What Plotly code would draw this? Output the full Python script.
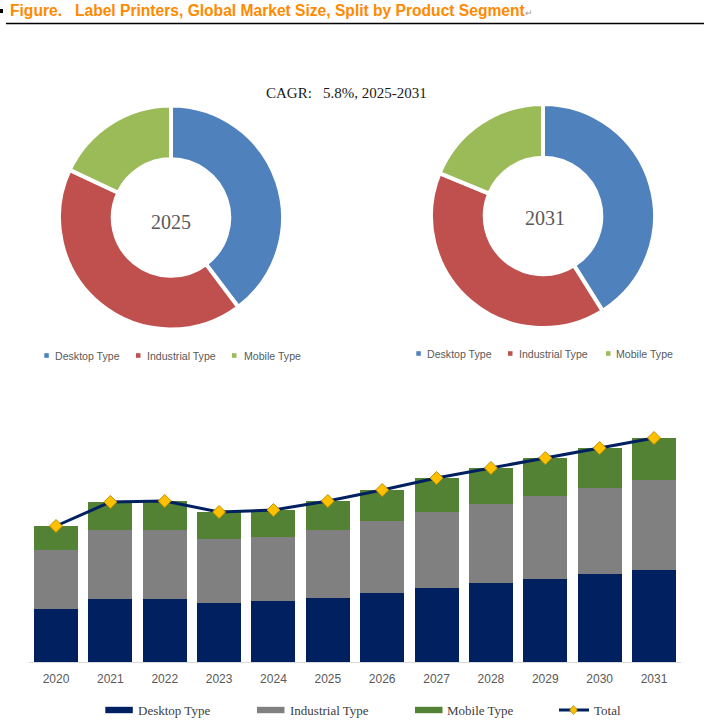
import plotly.graph_objects as go

W, H = 704, 724

# ---------------- data ----------------
years = ["2020", "2021", "2022", "2023", "2024", "2025", "2026", "2027", "2028", "2029", "2030", "2031"]
desktop = [53, 63, 63, 59, 61, 64, 69, 74, 79, 83, 88, 92]
industrial = [59, 69, 69, 64, 64, 68, 72, 76, 79, 83, 86, 90]
mobile = [24, 28, 29, 27, 27, 29, 31, 34, 36, 38, 40, 42]
total = [d + i + m for d, i, m in zip(desktop, industrial, mobile)]
segments = ["Desktop Type", "Industrial Type", "Mobile Type"]
pie_years = ["2025", "2031"]
title_text = "Figure.\u00a0\u00a0\u00a0Label Printers, Global Market Size, Split by Product Segment"
cagr_text = "CAGR:\u00a0\u00a0 5.8%, 2025-2031"

pie_colors = ["#4F81BD", "#C0504D", "#9BBB59"]
bar_colors = ["#002060", "#808080", "#548235"]


def px(x):
    return x / W


def py(y):
    return 1 - y / H


fig = go.Figure()

# ---------------- donuts ----------------
pie_domains = [
    dict(x=[px(59), px(283)], y=[py(329.5), py(105.5)]),
    dict(x=[px(431), px(655)], y=[py(328), py(104)]),
]
for k, yr in enumerate(pie_years):
    idx = years.index(yr)
    vals = [desktop[idx], industrial[idx], mobile[idx]]
    fig.add_trace(go.Pie(
        labels=segments, values=vals, hole=0.52, sort=False,
        direction="clockwise", rotation=0, textinfo="none",
        marker=dict(colors=pie_colors, line=dict(color="white", width=4)),
        domain=pie_domains[k], showlegend=False, hoverinfo="label+value",
    ))

# ---------------- stacked bars ----------------
for name, vals, col in zip(segments, [desktop, industrial, mobile], bar_colors):
    fig.add_trace(go.Bar(x=years, y=vals, name=name, marker=dict(color=col, line=dict(width=0)),
                         showlegend=False))
fig.add_trace(go.Scatter(
    x=years, y=total, name="Total", mode="lines+markers",
    line=dict(color="#002060", width=3),
    marker=dict(symbol="diamond", size=10, color="#FFC000", line=dict(color="#BF8F00", width=1)),
    showlegend=False,
))

fig.update_layout(
    width=W, height=H, margin=dict(l=0, r=0, t=0, b=0),
    paper_bgcolor="white", plot_bgcolor="white",
    barmode="stack", bargap=0.19,
    xaxis=dict(domain=[px(28.8), px(681.2)], range=[-0.5, len(years) - 0.5], autorange=False,
               showline=True, linecolor="#D9D9D9", linewidth=1,
               showgrid=False, zeroline=False, ticks="", ticklabelstandoff=6,
               tickfont=dict(family="Liberation Sans, Arial", size=12, color="#595959")),
    yaxis=dict(domain=[py(662), py(400)], range=[0, 262], visible=False),
)

shapes = []
annotations = []

# title
annotations.append(dict(x=px(8), y=py(11), xref="paper", yref="paper", xanchor="left", yanchor="middle",
                        text="<b>" + title_text + "</b><span style='color:#A0A0A0;font-size:9px'>\u21b5</span>",
                        showarrow=False,
                        font=dict(family="Liberation Sans, Arial", size=15.6, color="#FF8A00")))
shapes.append(dict(type="rect", xref="paper", yref="paper", x0=px(0), x1=px(3), y0=py(13), y1=py(9),
                   fillcolor="black", line=dict(width=0)))
shapes.append(dict(type="line", xref="paper", yref="paper", x0=px(6), x1=px(704), y0=py(23.5), y1=py(23.5),
                   line=dict(color="black", width=1.5)))

# CAGR
annotations.append(dict(x=px(346.5), y=py(93), xref="paper", yref="paper", xanchor="center", yanchor="middle",
                        text=cagr_text, showarrow=False,
                        font=dict(family="Liberation Serif, Times New Roman", size=15, color="#1A1A1A")))

# donut centre labels
for (cx, cy), yr in zip([(171, 222), (545, 218)], pie_years):
    annotations.append(dict(x=px(cx), y=py(cy), xref="paper", yref="paper", xanchor="center", yanchor="middle",
                            text=yr, showarrow=False,
                            font=dict(family="Liberation Serif, Times New Roman", size=20, color="#595959")))

# donut legends
donut_leg = [
    (355.5, [44.3, 136, 232], [53.3, 145, 242]),
    (353.5, [416.3, 508, 606], [425.3, 516.7, 614.3]),
]
for yc, sq_x, tx_x in donut_leg:
    for sx, tx, col, lab in zip(sq_x, tx_x, pie_colors, segments):
        shapes.append(dict(type="rect", xref="paper", yref="paper", x0=px(sx), x1=px(sx + 4.5),
                           y0=py(yc + 2.3), y1=py(yc - 2.3), fillcolor=col, line=dict(width=0)))
        annotations.append(dict(x=px(tx), y=py(yc), xref="paper", yref="paper", xanchor="left",
                                yanchor="middle", text=lab, showarrow=False,
                                font=dict(family="Liberation Sans, Arial", size=10.6, color="#595959")))

# bottom legend
ly = 710
leg_items = [(105.3, 136, bar_colors[0], "Desktop Type"),
             (257, 287.5, bar_colors[1], "Industrial Type"),
             (415, 445, bar_colors[2], "Mobile Type")]
for sx, tx, col, lab in leg_items:
    shapes.append(dict(type="rect", xref="paper", yref="paper", x0=px(sx), x1=px(sx + 27.5),
                       y0=py(ly + 3.2), y1=py(ly - 3.2), fillcolor=col, line=dict(width=0)))
    annotations.append(dict(x=px(tx), y=py(ly), xref="paper", yref="paper", xanchor="left", yanchor="middle",
                            text=lab, showarrow=False,
                            font=dict(family="Liberation Serif, Times New Roman", size=13, color="#404040")))
shapes.append(dict(type="line", xref="paper", yref="paper", x0=px(559), x1=px(589), y0=py(ly), y1=py(ly),
                   line=dict(color="#002060", width=3)))
dx, dy = 3.8 / W, 4.5 / H
cx, cy = px(573.5), py(ly)
shapes.append(dict(type="path", xref="paper", yref="paper",
                   path=f"M {cx},{cy + dy} L {cx + dx},{cy} L {cx},{cy - dy} L {cx - dx},{cy} Z",
                   fillcolor="#FFC000", line=dict(color="#BF8F00", width=0.8)))
annotations.append(dict(x=px(592), y=py(ly), xref="paper", yref="paper", xanchor="left", yanchor="middle",
                        text="Total", showarrow=False,
                        font=dict(family="Liberation Serif, Times New Roman", size=13, color="#404040")))

fig.update_layout(shapes=shapes, annotations=annotations)
fig.write_html("out.html")
